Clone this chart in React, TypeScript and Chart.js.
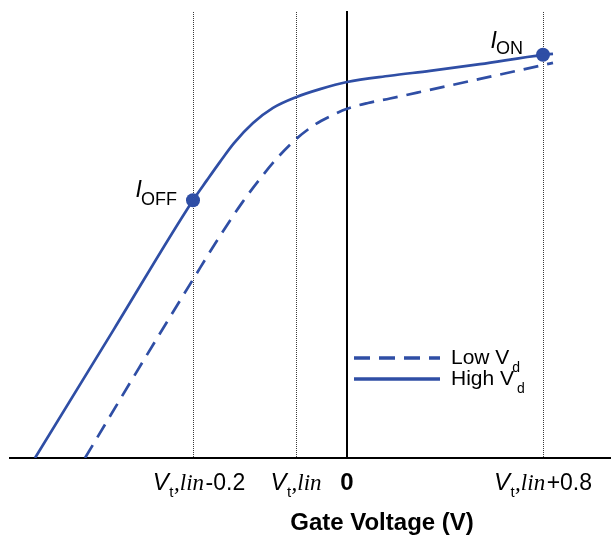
import React, { useEffect, useRef } from 'react';
import { Chart, registerables } from 'chart.js';

Chart.register(...registerables);

// ---------- data (arbitrary gate-voltage units / log-current units) ----------
const X_MIN = -3.37;
const X_MAX = 2.64;
const Y_MIN = 0;
const Y_MAX = 10;

const TICK_VALUES = [-1.54, -0.51, 0, 1.96];

const LOW_VD_X = [-2.62, -2.05, -1.53, -1.27, -1.05, -0.87, -0.7, -0.51, -0.31, -0.16, 0, 0.21, 0.43, 0.82, 1.33, 1.96, 2.06];
const LOW_VD_Y = [0, 2.13, 4.04, 4.98, 5.72, 6.26, 6.72, 7.15, 7.49, 7.67, 7.83, 7.96, 8.06, 8.25, 8.5, 8.81, 8.86];

const HIGH_VD_X = [-3.12, -2.33, -1.54, -1.4, -1.27, -1.13, -0.94, -0.74, -0.51, -0.27, 0, 0.43, 0.83, 1.33, 1.96, 2.06];
const HIGH_VD_Y = [0, 2.89, 5.78, 6.23, 6.64, 7.06, 7.51, 7.85, 8.09, 8.27, 8.43, 8.57, 8.68, 8.83, 9.04, 9.06];

const MARKER_X = [-1.54, 1.96];
const MARKER_Y = [5.78, 9.04];
const MARKER_SUBS = ['OFF', 'ON'];

const SERIES_NAMES = ['Low V', 'High V'];
const SERIES_SUB = 'd';
const X_TITLE = 'Gate Voltage (V)';

// tick label pieces: [text, style]
const TICK_LABELS: [string, string][][] = [
  [['V', 'vi'], ['t', 'sub'], [',lin', 'si'], ['-0.2', 'n']],
  [['V', 'vi'], ['t', 'sub'], [',lin', 'si']],
  [['0', 'b']],
  [['V', 'vi'], ['t', 'sub'], [',lin', 'si'], ['+0.8', 'n']],
];

// ---------- styles ----------
const SANS = '"Liberation Sans", Arial, Helvetica, sans-serif';
const SERIF = '"Liberation Serif", "Times New Roman", Times, serif';
const BLUE = '#2f4ea5';
const TEXT = '#000000';

const RUN_STYLES: Record<string, { font: string; dy: number; gap: number }> = {
  vi: { font: `italic 24px ${SANS}`, dy: 0, gap: 0.5 },
  sub: { font: `15px ${SANS}`, dy: 7, gap: 0.5 },
  si: { font: `italic 23px ${SERIF}`, dy: 0, gap: 1.5 },
  n: { font: `23px ${SANS}`, dy: 0, gap: 0 },
  b: { font: `bold 24px ${SANS}`, dy: 0, gap: 0 },
};

function drawRuns(ctx: CanvasRenderingContext2D, runs: [string, string][], cx: number, baseline: number) {
  let total = 0;
  const widths = runs.map(([t, s], i) => {
    ctx.font = RUN_STYLES[s].font;
    const w = ctx.measureText(t).width + (i < runs.length - 1 ? RUN_STYLES[s].gap : 0);
    total += w;
    return w;
  });
  let x = cx - total / 2;
  runs.forEach(([t, s], i) => {
    ctx.font = RUN_STYLES[s].font;
    ctx.fillText(t, x, baseline + RUN_STYLES[s].dy);
    x += widths[i];
  });
}

const overlayPlugin = {
  id: 'overlay',
  afterDraw(chart: any) {
    const ctx: CanvasRenderingContext2D = chart.ctx;
    const xs = chart.scales.x;
    const ys = chart.scales.y;
    const area = chart.chartArea;
    ctx.save();
    ctx.fillStyle = TEXT;
    ctx.textBaseline = 'alphabetic';
    ctx.textAlign = 'left';

    // tick labels (first label sits slightly right of its gridline in the original)
    const tickNudge = [6, 0, 0, 0];
    const tickBase = area.bottom + 31.5;
    TICK_LABELS.forEach((runs, i) => {
      drawRuns(ctx, runs, xs.getPixelForValue(TICK_VALUES[i]) + tickNudge[i], tickBase);
    });

    // axis title
    ctx.font = `bold 24px ${SANS}`;
    ctx.textAlign = 'center';
    ctx.fillText(X_TITLE, 382, area.bottom + 72);
    ctx.textAlign = 'left';

    // I_OFF / I_ON labels
    const labelOffsets = [
      { dx: -16, dyI: -3, dySub: 5 },
      { dx: -20, dyI: -7, dySub: -1 },
    ];
    MARKER_X.forEach((mx, i) => {
      const px = xs.getPixelForValue(mx);
      const py = ys.getPixelForValue(MARKER_Y[i]);
      const o = labelOffsets[i];
      ctx.font = `18px ${SANS}`;
      const subW = ctx.measureText(MARKER_SUBS[i]).width;
      const subX = px + o.dx - subW;
      ctx.fillText(MARKER_SUBS[i], subX, py + o.dySub);
      ctx.font = `italic 23px ${SANS}`;
      const iW = ctx.measureText('I').width;
      ctx.fillText('I', subX - iW + 1, py + o.dyI);
    });

    // legend
    const lx = xs.getPixelForValue(0) + 7;
    const rows = [area.top + 346, area.top + 367];
    [0, 1].forEach((di) => {
      const ds = chart.data.datasets[di];
      const y = rows[di];
      ctx.save();
      ctx.strokeStyle = ds.borderColor;
      ctx.lineWidth = 3.5;
      ctx.setLineDash(ds.borderDash && ds.borderDash.length ? [16, 9] : []);
      ctx.beginPath();
      ctx.moveTo(lx, y);
      ctx.lineTo(lx + 86, y);
      ctx.stroke();
      ctx.restore();
      ctx.fillStyle = TEXT;
      ctx.font = `21px ${SANS}`;
      const tx = lx + 97;
      ctx.fillText(SERIES_NAMES[di], tx, y + 5.5);
      const w = ctx.measureText(SERIES_NAMES[di]).width;
      ctx.font = `14px ${SANS}`;
      ctx.fillText(SERIES_SUB, tx + w + 3, y + 13.5);
    });

    ctx.restore();
  },
};

export default function App() {
  const canvasRef = useRef<HTMLCanvasElement | null>(null);

  useEffect(() => {
    if (!canvasRef.current) return;
    const toPts = (xs: number[], ys: number[]) => xs.map((x, i) => ({ x, y: ys[i] }));
    const chart = new Chart(canvasRef.current, {
      type: 'scatter',
      data: {
        datasets: [
          {
            label: 'Low Vd',
            data: toPts(LOW_VD_X, LOW_VD_Y),
            showLine: true,
            borderColor: BLUE,
            backgroundColor: BLUE,
            borderWidth: 2.7,
            borderDash: [15, 9],
            pointRadius: 0,
            cubicInterpolationMode: 'monotone',
            fill: false,
          },
          {
            label: 'High Vd',
            data: toPts(HIGH_VD_X, HIGH_VD_Y),
            showLine: true,
            borderColor: BLUE,
            backgroundColor: BLUE,
            borderWidth: 2.7,
            pointRadius: 0,
            cubicInterpolationMode: 'monotone',
            fill: false,
          },
          {
            label: 'markers',
            data: toPts(MARKER_X, MARKER_Y),
            showLine: false,
            backgroundColor: BLUE,
            borderColor: BLUE,
            borderWidth: 0,
            pointRadius: 7,
          },
        ],
      } as any,
      options: {
        animation: false,
        responsive: false,
        devicePixelRatio: 1,
        layout: { autoPadding: false, padding: { left: 10, right: 0, top: 12, bottom: 0 } },
        plugins: {
          legend: { display: false },
          tooltip: { enabled: false },
          title: { display: false },
        },
        scales: {
          x: {
            type: 'linear',
            min: X_MIN,
            max: X_MAX,
            position: 'bottom',
            afterBuildTicks: (s: any) => {
              s.ticks = TICK_VALUES.map((v) => ({ value: v }));
            },
            afterFit: (s: any) => {
              s.height = 78;
            },
            ticks: { display: false },
            grid: { display: true, color: '#3a3a3a', lineWidth: 1, drawTicks: false },
            border: { display: true, color: '#000000', width: 2, dash: [1, 1] },
          },
          y: {
            type: 'linear',
            min: Y_MIN,
            max: Y_MAX,
            position: { x: 0 },
            ticks: { display: false },
            grid: { display: false },
            border: { display: true, color: '#000000', width: 2 },
          },
        },
      } as any,
      plugins: [overlayPlugin],
    });
    return () => chart.destroy();
  }, []);

  return (
    <div style={{ position: 'absolute', left: 0, top: 0, width: 611, height: 536, background: '#fff' }}>
      <canvas ref={canvasRef} width={611} height={536} style={{ display: 'block' }} />
    </div>
  );
}
